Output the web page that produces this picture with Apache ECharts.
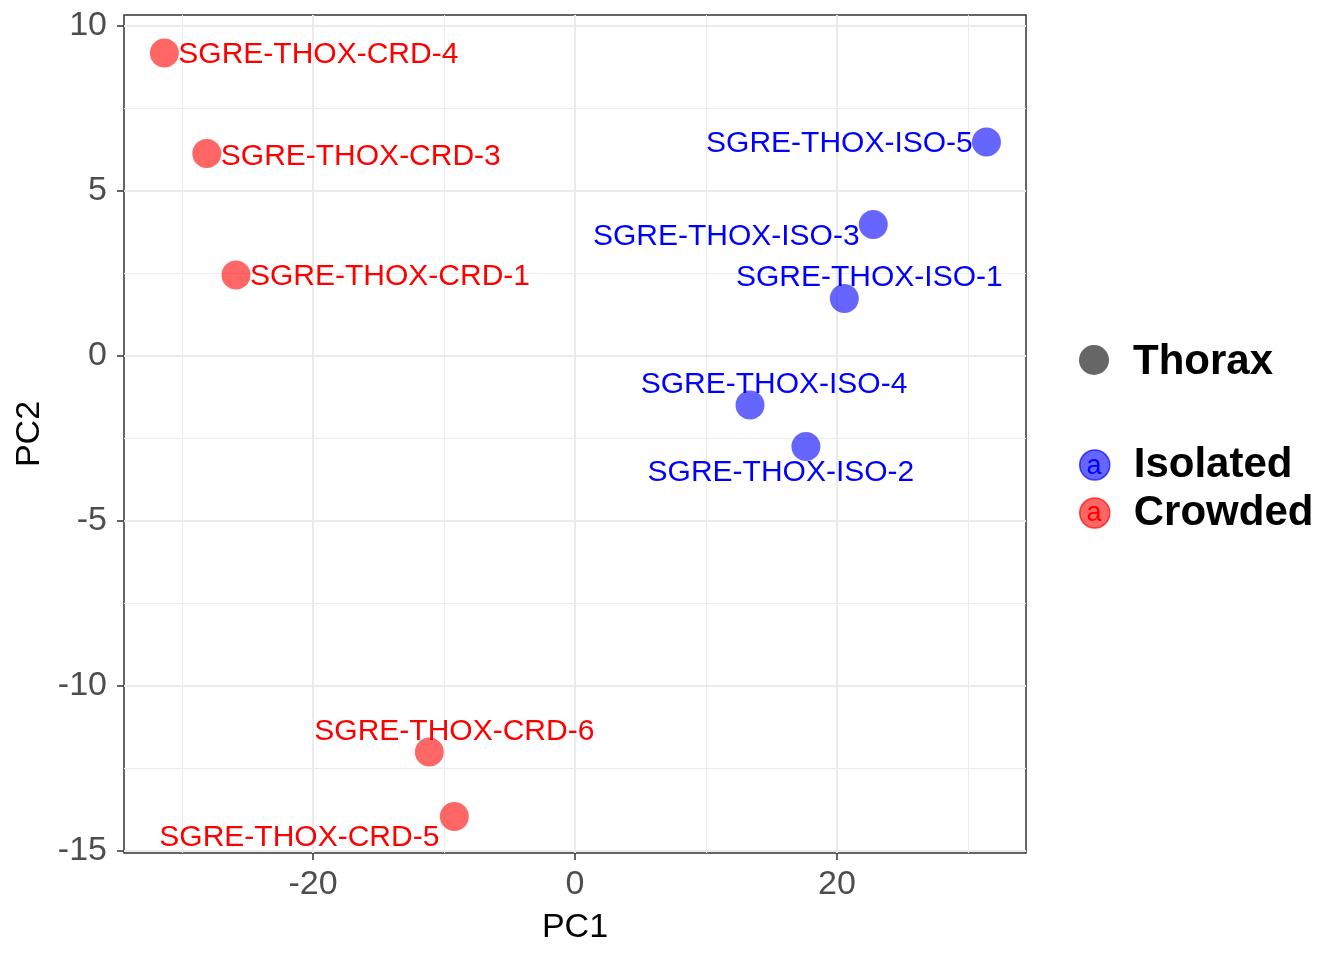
<!DOCTYPE html>
<html>
<head>
<meta charset="utf-8">
<title>PCA Thorax</title>
<script src="https://cdn.jsdelivr.net/npm/echarts@6/dist/echarts.min.js"></script>
<style>
  html, body { margin: 0; padding: 0; background: #fff; }
  #chart { width: 1344px; height: 960px; }
</style>
</head>
<body>
<div id="chart"></div>
<script>
// sample names and PC scores
var isoNames = ['SGRE-THOX-ISO-1', 'SGRE-THOX-ISO-2', 'SGRE-THOX-ISO-3', 'SGRE-THOX-ISO-4', 'SGRE-THOX-ISO-5'];
var isoPC1 = [20.56, 17.63, 22.77, 13.36, 31.41];
var isoPC2 = [1.74, -2.75, 3.98, -1.49, 6.48];

var crdNames = ['SGRE-THOX-CRD-1', 'SGRE-THOX-CRD-3', 'SGRE-THOX-CRD-4', 'SGRE-THOX-CRD-5', 'SGRE-THOX-CRD-6'];
var crdPC1 = [-25.88, -28.11, -31.35, -9.21, -11.12];
var crdPC2 = [2.45, 6.13, 9.18, -13.96, -12.01];

var xTicks = [-20, 0, 20];
var yTicks = [-15, -10, -5, 0, 5, 10];
var xMinor = [-30, -10, 10, 30];
var yMinor = [-12.5, -7.5, -2.5, 2.5, 7.5];

// label nudges (px), repel-like placement
var isoLabelOffset = [[25, -21], [-25, 26], [-147, 12], [24, -20], [-147, 2]];
var crdLabelOffset = [[154, 2], [154, 3], [154, 2], [-155, 21], [25, -20]];

var FONT = 'Liberation Sans, Arial, Helvetica, sans-serif';

function buildPoints(names, xs, ys, offsets, color) {
    return names.map(function (n, i) {
        return {
            name: n,
            value: [xs[i], ys[i]],
            label: { offset: offsets[i], color: color }
        };
    });
}

var minorLines = xMinor.map(function (v) { return { xAxis: v }; })
    .concat(yMinor.map(function (v) { return { yAxis: v }; }));

var chart = echarts.init(document.getElementById('chart'));

var legendX = 1094, thoraxY = 360, legendY0 = 464, legendStep = 47;

chart.setOption({
    animation: false,
    backgroundColor: '#fff',
    textStyle: { fontFamily: FONT },
    grid: {
        left: 124, right: 318, top: 15, bottom: 107,
        show: true, borderColor: '#333333', borderWidth: 1.5,
        backgroundColor: 'transparent'
    },
    xAxis: {
        type: 'value',
        min: -34.43, max: 34.43,
        name: 'PC1', nameLocation: 'middle', nameGap: 58,
        nameTextStyle: { fontSize: 34, color: '#000', fontFamily: FONT },
        axisLine: { show: false, onZero: false },
        axisTick: { show: true, length: 7, customValues: xTicks, lineStyle: { color: '#333', width: 1.5 } },
        axisLabel: { customValues: xTicks, fontSize: 34, color: '#4D4D4D', margin: 15, fontFamily: FONT },
        splitLine: { show: true, lineStyle: { color: '#EBEBEB', width: 2 } }
    },
    yAxis: {
        type: 'value',
        min: -15.07, max: 10.33,
        name: 'PC2', nameLocation: 'middle', nameGap: 77, nameRotate: 90,
        nameTextStyle: { fontSize: 34, color: '#000', fontFamily: FONT },
        axisLine: { show: false, onZero: false },
        axisTick: { show: true, length: 7, customValues: yTicks, lineStyle: { color: '#333', width: 1.5 } },
        axisLabel: { customValues: yTicks, fontSize: 34, color: '#4D4D4D', margin: 17, fontFamily: FONT },
        splitLine: { show: true, lineStyle: { color: '#EBEBEB', width: 2 } }
    },
    legend: {
        data: [
            { name: 'Isolated', itemStyle: { borderColor: 'rgba(0,0,255,0.7)', borderWidth: 1.5 } },
            { name: 'Crowded', itemStyle: { borderColor: 'rgba(255,0,0,0.7)', borderWidth: 1.5 } }
        ],
        orient: 'vertical',
        left: legendX - 15, top: legendY0 - 20,
        padding: 0,
        icon: 'circle',
        itemWidth: 30, itemHeight: 30,
        itemGap: 6,
        selectedMode: false,
        textStyle: {
            fontSize: 42, fontWeight: 'bold', color: '#000', fontFamily: FONT,
            padding: [3, 0, 0, 19]
        }
    },
    graphic: [
        { type: 'circle', shape: { cx: legendX, cy: thoraxY, r: 15 }, style: { fill: '#666666' } },
        {
            type: 'text', x: 1133, y: thoraxY + 2,
            style: { text: 'Thorax', font: 'bold 42px ' + FONT, fill: '#000', verticalAlign: 'middle' }
        },
        {
            type: 'text', x: legendX, y: legendY0 + 3, z: 100,
            style: { text: 'a', font: '27px ' + FONT, fill: '#0000FF', align: 'center', verticalAlign: 'middle' }
        },
        {
            type: 'text', x: legendX, y: legendY0 + legendStep + 3, z: 100,
            style: { text: 'a', font: '27px ' + FONT, fill: '#FF0000', align: 'center', verticalAlign: 'middle' }
        }
    ],
    series: [
        {
            name: 'grid-minor',
            type: 'scatter',
            data: [],
            z: 0,
            silent: true,
            markLine: {
                z: 0,
                silent: true,
                symbol: 'none',
                label: { show: false },
                lineStyle: { color: '#EBEBEB', width: 1, type: 'solid' },
                data: minorLines
            }
        },
        {
            name: 'Isolated',
            type: 'scatter',
            symbolSize: 29,
            z: 2,
            itemStyle: { color: 'rgba(0,0,255,0.6)', opacity: 1 },
            emphasis: { disabled: true },
            label: {
                show: true, position: 'inside', formatter: '{b}',
                fontSize: 30, fontFamily: FONT, align: 'center', verticalAlign: 'middle'
            },
            data: buildPoints(isoNames, isoPC1, isoPC2, isoLabelOffset, '#0000FF')
        },
        {
            name: 'Crowded',
            type: 'scatter',
            symbolSize: 29,
            z: 2,
            itemStyle: { color: 'rgba(255,0,0,0.6)', opacity: 1 },
            emphasis: { disabled: true },
            label: {
                show: true, position: 'inside', formatter: '{b}',
                fontSize: 30, fontFamily: FONT, align: 'center', verticalAlign: 'middle'
            },
            data: buildPoints(crdNames, crdPC1, crdPC2, crdLabelOffset, '#FF0000')
        }
    ]
});
</script>
</body>
</html>
